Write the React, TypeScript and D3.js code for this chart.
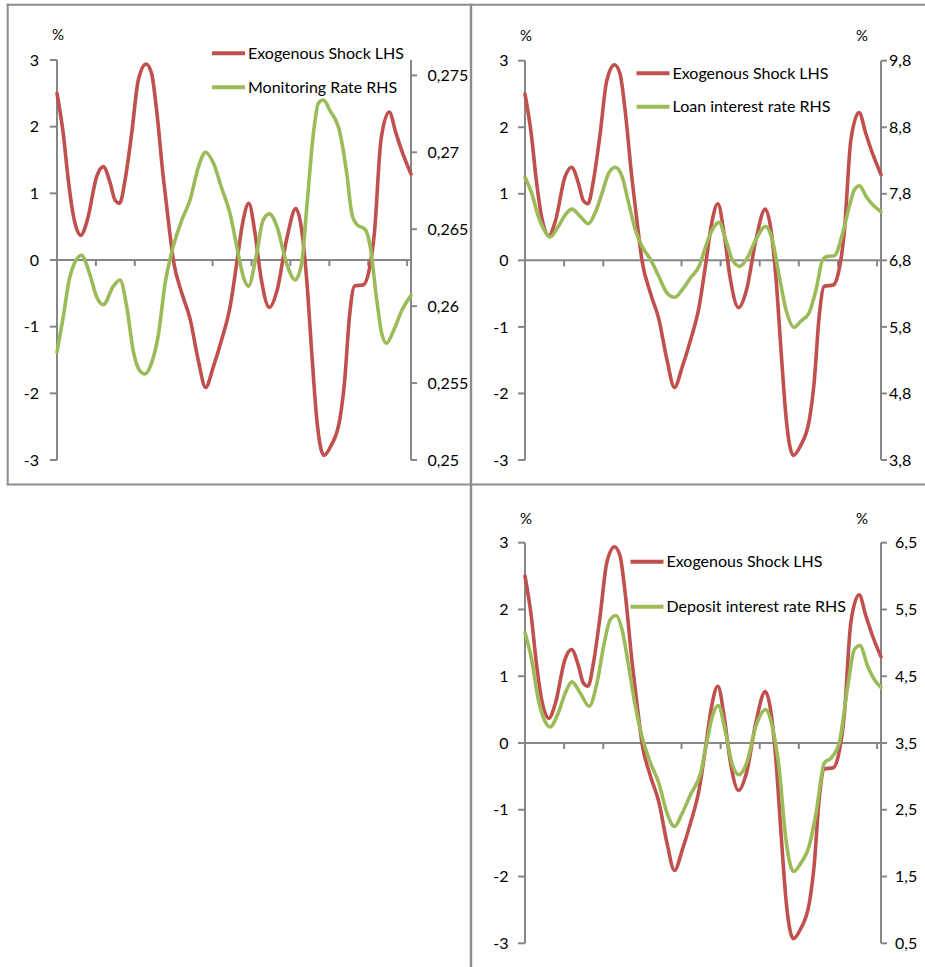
import React from 'react';
import * as d3 from 'd3';

// ---- data (period index, value) ----
const shockX = [0, 1.6, 2.9, 4.1, 6.1, 7.8, 10.2, 11.9, 13.6, 14.9, 16.1, 17.5, 19.2, 20.9, 22.9, 24.3, 25.6, 27.3, 28.6, 29.9, 32.1, 34.2, 36.3, 38.2, 40.2, 42.3, 44.5, 46.2, 47.7, 49.3, 50.9, 52.4, 54.6, 56.6, 59, 61.4, 62.9, 64.2, 65.5, 66.8, 68.6, 70.4, 72.7, 73.9, 75.2, 76.5, 78.8, 80.1, 81.6, 83.3, 85.4, 87.1, 88.8, 91];
const shockY = [2.5, 1.9, 1.2, 0.7, 0.37, 0.6, 1.25, 1.4, 1.17, 0.9, 0.85, 1.2, 1.9, 2.7, 2.94, 2.8, 2.25, 1.25, 0.6, 0, -0.5, -0.88, -1.5, -1.91, -1.6, -1.2, -0.7, -0.05, 0.55, 0.85, 0.4, -0.25, -0.71, -0.45, 0.3, 0.77, 0.45, -0.3, -1.4, -2.4, -2.93, -2.79, -2.39, -1.84, -0.84, -0.39, -0.37, -0.19, 0.41, 1.81, 2.22, 1.91, 1.61, 1.29];

const monX = [0, 1.6, 3.3, 6.3, 8.4, 10.2, 11.9, 14.5, 16.2, 17.9, 19.6, 21.3, 22.6, 24.3, 26.1, 27.8, 29.9, 32.1, 34.2, 36.3, 38.2, 40.2, 42.3, 44.5, 46.2, 47.9, 49.2, 51.3, 53, 54.6, 56.5, 59, 61.2, 62.9, 64.2, 65.9, 67.2, 68.5, 70.2, 72.8, 74.5, 75.8, 77.1, 79.2, 80.5, 82.2, 83.5, 84.7, 86.5, 88.6, 91];
const monY = [0.257, 0.2593, 0.2619, 0.2633, 0.2621, 0.2606, 0.2601, 0.2613, 0.2617, 0.26, 0.2571, 0.2558, 0.2556, 0.2563, 0.2582, 0.2615, 0.2639, 0.2656, 0.2669, 0.269, 0.27, 0.2693, 0.2677, 0.266, 0.2639, 0.2619, 0.2613, 0.2634, 0.2656, 0.266, 0.2652, 0.2628, 0.2617, 0.2628, 0.2664, 0.2712, 0.2732, 0.2734, 0.2727, 0.2712, 0.2686, 0.266, 0.2653, 0.265, 0.2639, 0.2604, 0.2582, 0.2576, 0.2584, 0.2597, 0.2607];

const loanX = [0, 1.7, 3.4, 5.1, 6.4, 8.5, 10.3, 12, 14.1, 16.2, 17.9, 19.7, 21.4, 23.1, 24.8, 26.5, 28.2, 29.9, 32.1, 34.2, 36.3, 38.3, 40.2, 42.3, 44.5, 46.2, 47.9, 49.6, 51.3, 53, 54.9, 56.8, 59, 61.5, 63.2, 65, 66.7, 68.8, 70.5, 72.6, 74.4, 76.1, 77.4, 79.1, 81.2, 82.9, 84.2, 85.5, 87.2, 88.9, 91];
const loanY = [8.05, 7.81, 7.46, 7.235, 7.15, 7.31, 7.485, 7.57, 7.46, 7.35, 7.51, 7.81, 8.11, 8.2, 8.06, 7.66, 7.26, 7.01, 6.81, 6.56, 6.31, 6.245, 6.36, 6.535, 6.71, 7.01, 7.26, 7.37, 7.11, 6.81, 6.71, 6.835, 7.11, 7.31, 7.11, 6.56, 6.06, 5.795, 5.885, 6.01, 6.36, 6.81, 6.86, 6.87, 7.21, 7.61, 7.86, 7.92, 7.76, 7.635, 7.53];

const depX = [0, 1.7, 3.4, 5.1, 6.4, 8.5, 10.3, 12, 14.1, 16.4, 18.4, 20.1, 21.8, 23.3, 24.8, 26.5, 28.2, 29.9, 32.1, 34.2, 36.3, 38.2, 40.2, 42.3, 44.9, 46.6, 47.9, 49.4, 51.3, 53, 54.7, 56.8, 59, 61.5, 63.2, 65, 66.7, 68.7, 70.5, 72.6, 74.4, 76.5, 78.2, 80.3, 82.5, 84.2, 85.6, 87.6, 89.3, 91];
const depY = [5.15, 4.75, 4.15, 3.825, 3.74, 3.95, 4.25, 4.415, 4.25, 4.05, 4.4, 4.95, 5.35, 5.41, 5.2, 4.65, 4.05, 3.6, 3.2, 2.9, 2.45, 2.25, 2.45, 2.725, 3.05, 3.55, 3.9, 4.06, 3.65, 3.175, 3.025, 3.225, 3.75, 4.0, 3.75, 3.1, 2.05, 1.575, 1.7, 1.95, 2.45, 3.2, 3.275, 3.5, 4.35, 4.9, 4.96, 4.65, 4.45, 4.33];

const leftTicks = [3, 2, 1, 0, -1, -2, -3];
const xTicks = [10, 20, 30, 40, 50, 60, 70, 80, 90];
const monTicks = [0.25, 0.255, 0.26, 0.265, 0.27, 0.275];
const loanTicks = [3.8, 4.8, 5.8, 6.8, 7.8, 8.8, 9.8];
const depTicks = [0.5, 1.5, 2.5, 3.5, 4.5, 5.5, 6.5];

const seriesShock = 'Exogenous Shock LHS';
const seriesMon = 'Monitoring Rate RHS';
const seriesLoan = 'Loan interest rate RHS';
const seriesDep = 'Deposit interest rate RHS';

const RED = '#C0504D';
const GREEN = '#9BBB59';
const AXIS = '#868686';
const FONT = 'Lato, "Open Sans", sans-serif';
const FS = 16;

type PanelProps = {
  x0: number; x1: number; y0: number; y1: number;
  rightDomain: [number, number]; rightTicks: number[];
  greenX: number[]; greenY: number[];
  legendX: number; legendY1: number; legendY2: number; greenName: string;
  leftLabelGap: number; rightLabelGap: number;
  pctY: number; rightPct: boolean;
};

const fmt = (v: number) => String(v).replace('.', ',');

function Panel(p: PanelProps) {
  const xs = d3.scaleLinear().domain([0, 91]).range([p.x0, p.x1]);
  const yl = d3.scaleLinear().domain([-3, 3]).range([p.y1, p.y0]);
  const yr = d3.scaleLinear().domain(p.rightDomain).range([p.y1, p.y0]);
  const curve = d3.curveMonotoneX;
  const redLine = d3.line<number>().x((_, i) => xs(shockX[i])).y((d) => yl(d)).curve(curve);
  const greenLine = d3.line<number>().x((_, i) => xs(p.greenX[i])).y((d) => yr(d)).curve(curve);
  const zy = yl(0);
  return (
    <g fontFamily={FONT} fontSize={FS} fill="#000">
      {/* left axis */}
      <line x1={p.x0} x2={p.x0} y1={p.y0} y2={p.y1} stroke={AXIS} strokeWidth={2} />
      {leftTicks.map((t) => (
        <g key={'l' + t}>
          <line x1={p.x0 - 7} x2={p.x0} y1={yl(t)} y2={yl(t)} stroke={AXIS} strokeWidth={2} />
          <text x={p.x0 - p.leftLabelGap} y={yl(t)} dy="0.35em" textAnchor="end">{t}</text>
        </g>
      ))}
      {/* right axis */}
      <line x1={p.x1} x2={p.x1} y1={p.y0} y2={p.y1} stroke={AXIS} strokeWidth={2} />
      {p.rightTicks.map((t) => (
        <g key={'r' + t}>
          <line x1={p.x1} x2={p.x1 + 6} y1={yr(t)} y2={yr(t)} stroke={AXIS} strokeWidth={2} />
          <text x={p.x1 + p.rightLabelGap} y={yr(t)} dy="0.35em" textAnchor="start">{fmt(t)}</text>
        </g>
      ))}
      {/* category axis at zero */}
      <line x1={p.x0} x2={p.x1} y1={zy} y2={zy} stroke={AXIS} strokeWidth={2} />
      {xTicks.map((t) => (
        <line key={'x' + t} x1={xs(t)} x2={xs(t)} y1={zy} y2={zy + 6} stroke={AXIS} strokeWidth={2} />
      ))}
      <text x={p.x0 + 1} y={p.pctY} dy="0.35em" textAnchor="middle" fontSize={15}>%</text>
      {p.rightPct && (
        <text x={p.x1 - 19} y={p.pctY} dy="0.35em" textAnchor="middle" fontSize={15}>%</text>
      )}
      <path d={redLine(shockY) || ''} fill="none" stroke={RED} strokeWidth={3.6} strokeLinejoin="round" strokeLinecap="round" />
      <path d={greenLine(p.greenY) || ''} fill="none" stroke={GREEN} strokeWidth={3.6} strokeLinejoin="round" strokeLinecap="round" />
      {/* legend */}
      <line x1={p.legendX} x2={p.legendX + 33} y1={p.legendY1} y2={p.legendY1} stroke={RED} strokeWidth={4} />
      <text x={p.legendX + 36} y={p.legendY1} dy="0.35em">{seriesShock}</text>
      <line x1={p.legendX} x2={p.legendX + 33} y1={p.legendY2} y2={p.legendY2} stroke={GREEN} strokeWidth={4} />
      <text x={p.legendX + 36} y={p.legendY2} dy="0.35em">{p.greenName}</text>
    </g>
  );
}

export default function App() {
  return (
    <svg width={925} height={967} style={{ position: 'absolute', left: 0, top: 0, background: '#fff' }}>
      <rect x={0} y={0} width={925} height={967} fill="#fff" />
      {/* panel borders */}
      <line x1={7.7} x2={7.7} y1={3.7} y2={485.3} stroke="#8c8c8c" strokeWidth={2} />
      <line x1={6.7} x2={925} y1={4.7} y2={4.7} stroke="#8c8c8c" strokeWidth={2} />
      <line x1={471} x2={471} y1={3.7} y2={967} stroke="#8c8c8c" strokeWidth={2.4} />
      <line x1={6.7} x2={925} y1={484.5} y2={484.5} stroke="#8c8c8c" strokeWidth={2} />

      <Panel x0={57} x1={411} y0={60} y1={460}
        rightDomain={[0.25, 0.276]} rightTicks={monTicks}
        greenX={monX} greenY={monY}
        legendX={212} legendY1={53.3} legendY2={87.3} greenName={seriesMon}
        leftLabelGap={18} rightLabelGap={16.5} pctY={35} rightPct={false} />
      <Panel x0={525} x1={881} y0={60.7} y1={460}
        rightDomain={[3.8, 9.8]} rightTicks={loanTicks}
        greenX={loanX} greenY={loanY}
        legendX={636.5} legendY1={73.3} legendY2={106.7} greenName={seriesLoan}
        leftLabelGap={16.5} rightLabelGap={8} pctY={36} rightPct={true} />
      <Panel x0={525} x1={881} y0={542.7} y1={943.3}
        rightDomain={[0.5, 6.5]} rightTicks={depTicks}
        greenX={depX} greenY={depY}
        legendX={630.5} legendY1={561.7} legendY2={606.7} greenName={seriesDep}
        leftLabelGap={16.5} rightLabelGap={14} pctY={519} rightPct={true} />
    </svg>
  );
}
